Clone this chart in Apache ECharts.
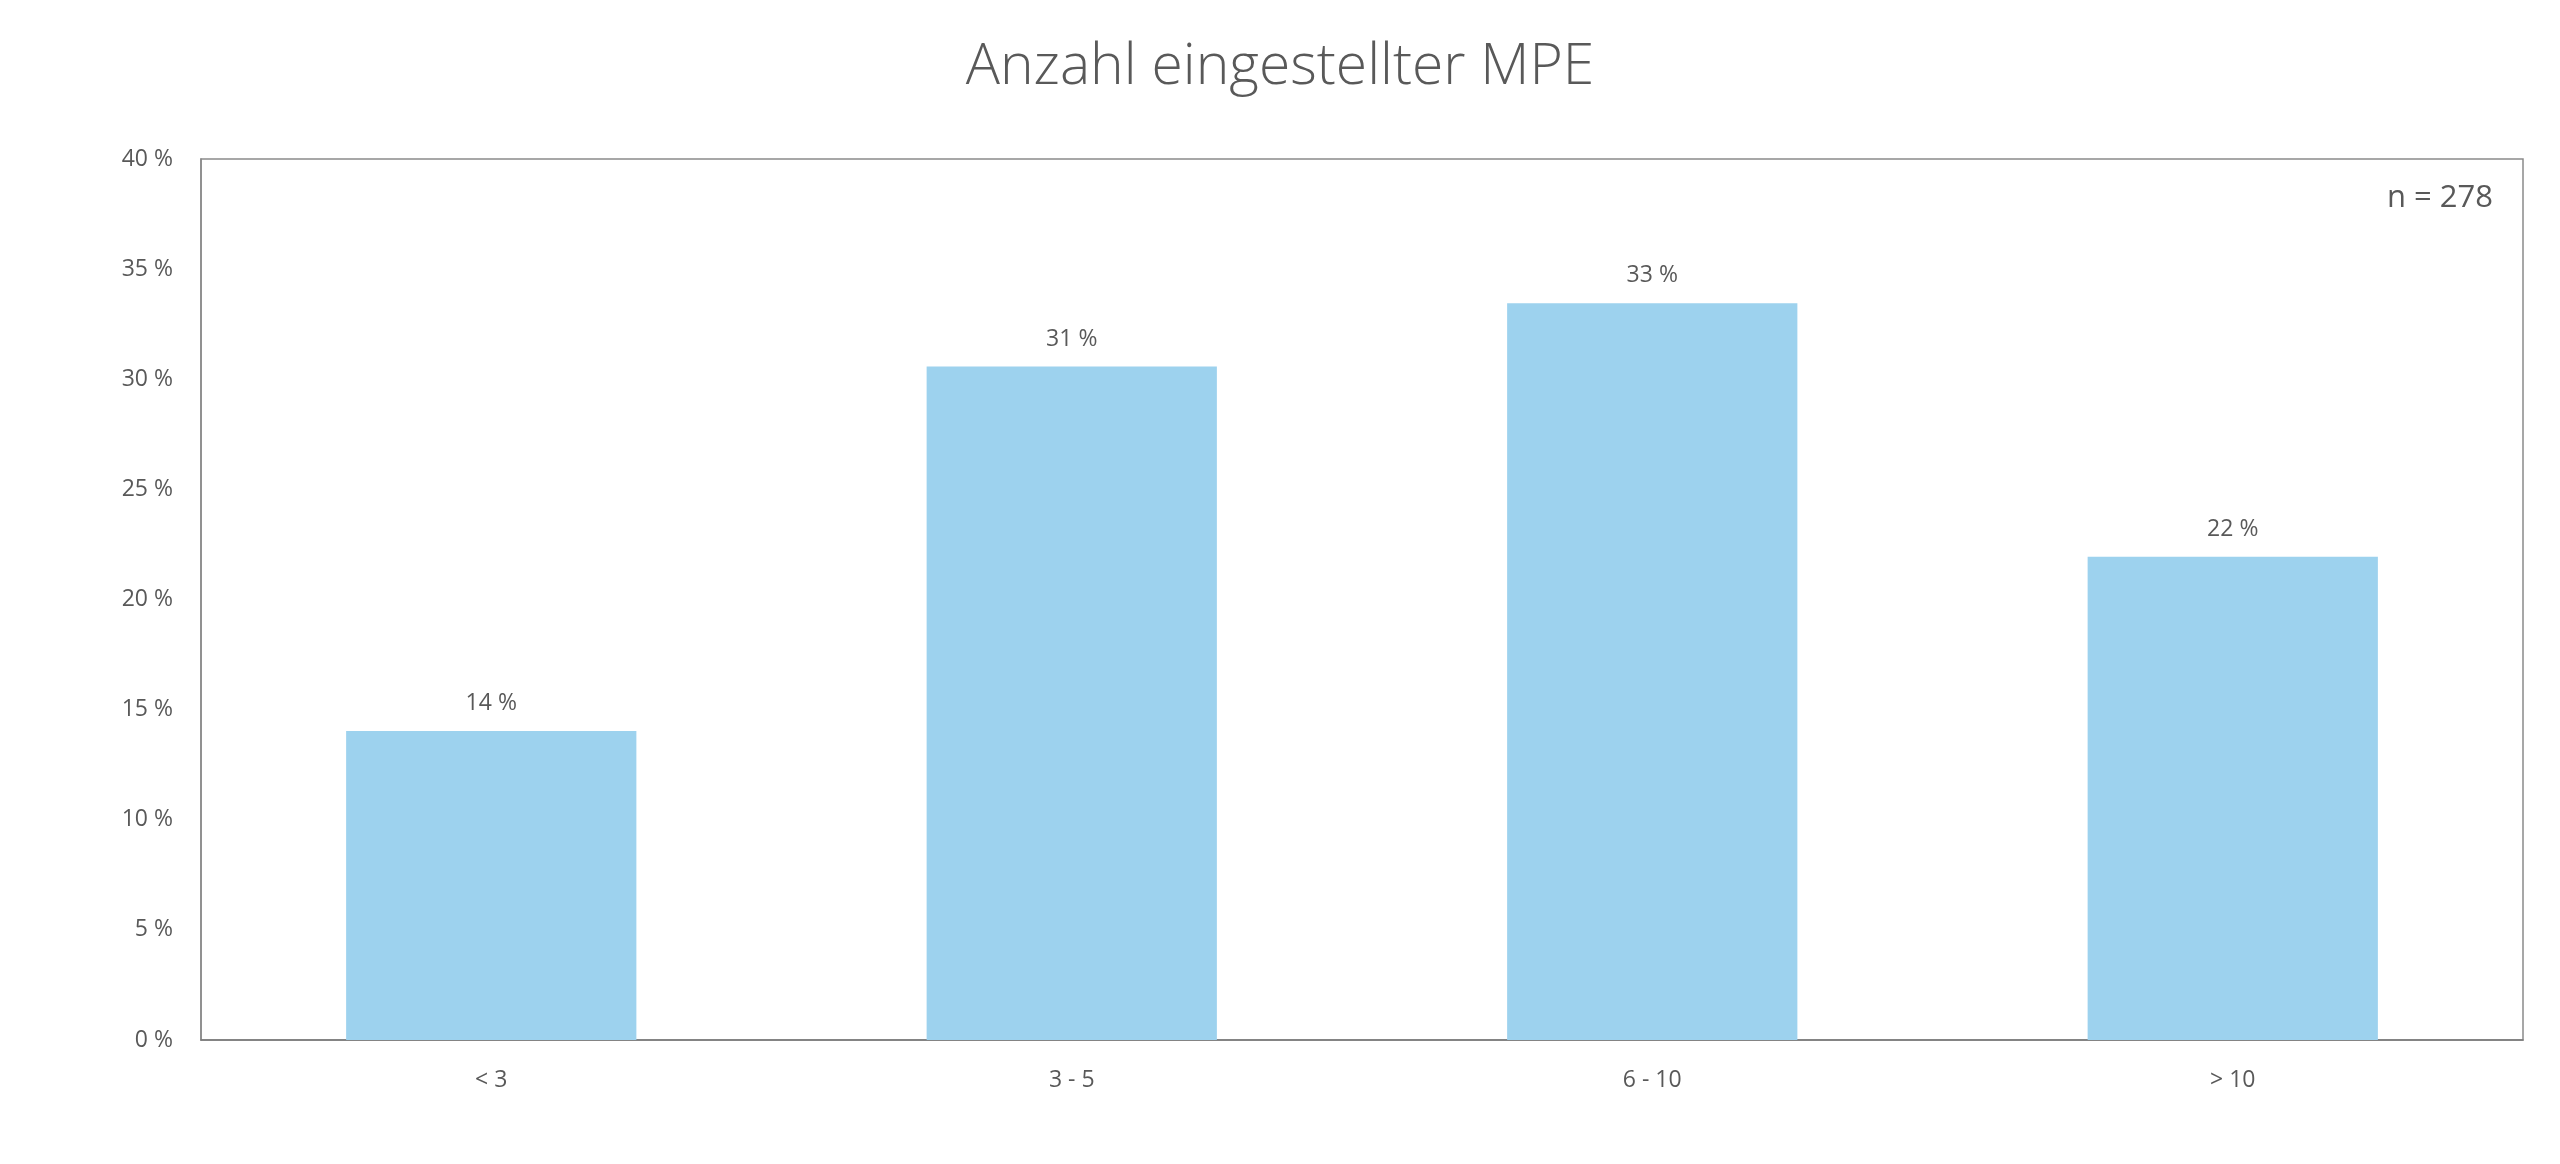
<!DOCTYPE html>
<html>
<head>
<meta charset="utf-8">
<script src="https://cdn.jsdelivr.net/npm/echarts@6/dist/echarts.min.js"></script>
<style>
html,body{margin:0;padding:0;background:#fff;}
#chart{width:2560px;height:1164px;}
</style>
</head>
<body>
<div id="chart"></div>
<script>
const titleText = 'Anzahl eingestellter MPE';
const sampleText = 'n = 278';
const categories = ['< 3', '3 - 5', '6 - 10', '> 10'];
const shares = [14.03, 30.58, 33.45, 21.94];
const yTicks = [0, 5, 10, 15, 20, 25, 30, 35, 40];

const textColor = '#595959';
const fontFam = '"Open Sans", "Noto Sans", sans-serif';

const chart = echarts.init(document.getElementById('chart'));
chart.setOption({
  backgroundColor: '#ffffff',
  animation: false,
  title: [
    {
      text: titleText,
      left: 'center',
      top: 34,
      textStyle: { color: textColor, fontFamily: fontFam, fontSize: 57, fontWeight: 300 }
    },
    {
      text: sampleText,
      right: 62,
      top: 178,
      textStyle: { color: textColor, fontFamily: fontFam, fontSize: 31, fontWeight: 'normal' }
    }
  ],
  grid: {
    left: 201, right: 37, top: 159, bottom: 124,
    show: true, borderColor: '#8a8a8a', borderWidth: 1.5, backgroundColor: 'transparent'
  },
  xAxis: {
    type: 'category',
    data: categories,
    axisLine: { show: true, lineStyle: { color: '#7a7a7a', width: 1.5 } },
    axisTick: { show: false },
    axisLabel: { color: textColor, fontFamily: fontFam, fontSize: 23, margin: 29 }
  },
  yAxis: {
    type: 'value',
    min: yTicks[0],
    max: yTicks[yTicks.length - 1],
    interval: 5,
    axisLine: { show: true, lineStyle: { color: '#8a8a8a', width: 1.5 } },
    axisTick: { show: false },
    splitLine: { show: false },
    axisLabel: {
      color: textColor, fontFamily: fontFam, fontSize: 23, margin: 28,
      formatter: v => v + ' %'
    }
  },
  series: [{
    type: 'bar',
    data: shares,
    barWidth: '50%',
    itemStyle: { color: '#9DD2EE' },
    label: {
      show: true,
      position: 'top',
      distance: 16,
      color: textColor,
      fontFamily: fontFam,
      fontSize: 23,
      formatter: p => Math.round(p.value) + ' %'
    }
  }]
});
</script>
</body>
</html>
